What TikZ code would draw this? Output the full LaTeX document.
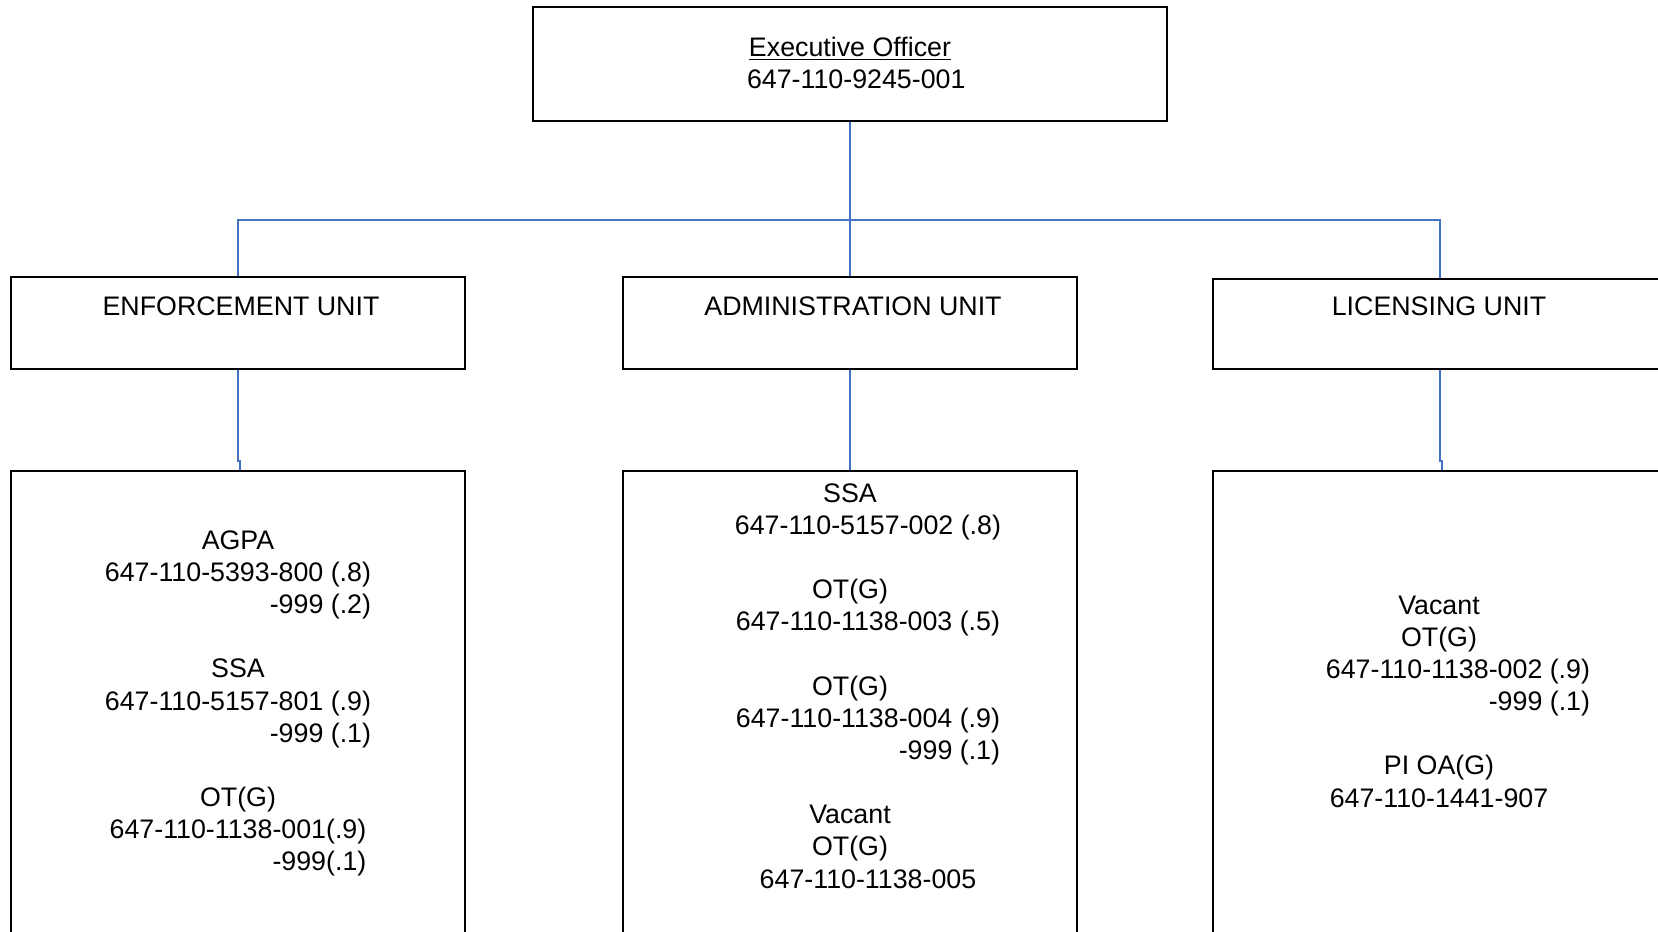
\documentclass[tikz,border=0pt]{standalone}
\usepackage{fontspec}
\setmainfont{Liberation Sans}
\usepackage{calc}
\usetikzlibrary{positioning}
\definecolor{linkblue}{HTML}{4472C4}
\newcommand{\tailto}[2]{\makebox[\widthof{#1}][r]{#2}}

\begin{document}
\begin{tikzpicture}[x=0.02cm,y=-0.02cm,
  box/.style={draw,line width=1.1pt,inner sep=0pt},
  txt/.style={align=center,font=\fontsize{15.25}{18.3}\selectfont,inner sep=0pt},
  link/.style={draw=linkblue,line width=0.8pt}]
\clip (0,0) rectangle (1658,932);
% top level
\node[box,minimum width=12.68cm,minimum height=2.28cm] (exec) at (850,64) {};
\node[txt] (execT) at (850,63) {\underline{Executive Officer}\\\hspace*{0.25cm}647-110-9245-001};
% units
\node[box,minimum width=9.088cm,minimum height=1.84cm] (enfU) at (237.8,323) {};
\node[box,minimum width=9.088cm,minimum height=1.84cm] (admU) at (850,323) {};
\node[box,minimum width=9.08cm,minimum height=1.8cm] (licU) at (1440,324) {};
\node[txt] (enfT) at (241,306.6) {ENFORCEMENT UNIT};
\node[txt] (admT) at (853,306.6) {ADMINISTRATION UNIT};
\node[txt] (licT) at (1439,306.6) {LICENSING UNIT};
% staff boxes
\node[box,minimum width=9.088cm,minimum height=10.6cm] (enfB) at (237.8,735.5) {};
\node[box,minimum width=9.088cm,minimum height=10.6cm] (admB) at (850,735.5) {};
\node[box,minimum width=9.08cm,minimum height=10.6cm] (licB) at (1440,735.5) {};
\node[txt] (enfS) at (238,703.5) {AGPA\\647-110-5393-800 (.8)\\
  \tailto{647-110-5393-800 (.8)}{-999 (.2)}\\[18.3pt]
  SSA\\647-110-5157-801 (.9)\\
  \tailto{647-110-5157-801 (.9)}{-999 (.1)}\\[18.3pt]
  OT(G)\\647-110-1138-001(.9)\\
  \tailto{647-110-1138-001(.9)}{-999(.1)}};
\node[txt] (admS) at (850,686) {SSA\\\hspace*{0.72cm}647-110-5157-002 (.8)\\[18.3pt]
  OT(G)\\\hspace*{0.72cm}647-110-1138-003 (.5)\\[18.3pt]
  OT(G)\\\hspace*{0.72cm}647-110-1138-004 (.9)\\
  \hspace*{0.72cm}\tailto{647-110-1138-004 (.9)}{-999 (.1)}\\[18.3pt]
  Vacant\\OT(G)\\\hspace*{0.72cm}647-110-1138-005};
\node[txt] (licS) at (1439,701.5) {Vacant\\OT(G)\\\hspace*{0.76cm}647-110-1138-002 (.9)\\
  \hspace*{0.76cm}\tailto{647-110-1138-002 (.9)}{-999 (.1)}\\[18.3pt]
  PI OA(G)\\647-110-1441-907};
% connectors
\draw[link] (exec.south) -- ++(0,98) coordinate (hub);
\draw[link] (enfU.north) |- (hub) -| (licU.north);
\draw[link] (hub) -- (admU.north);
\draw[link] (enfU.south) -- ++(0,91) -| ([xshift=0.04cm]enfB.north);
\draw[link] (admU.south) -- (admB.north);
\draw[link] (licU.south) -- ++(0,91) -| ([xshift=0.04cm]licB.north);
\end{tikzpicture}
\end{document}
